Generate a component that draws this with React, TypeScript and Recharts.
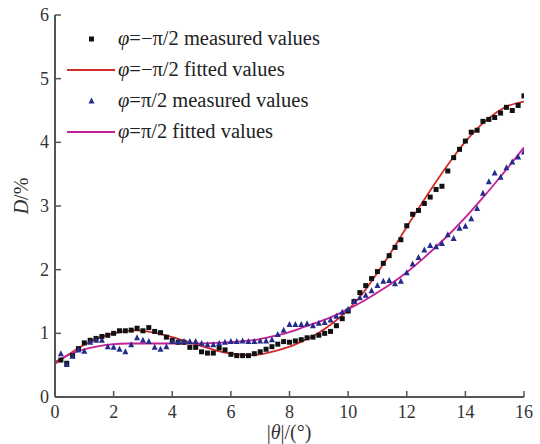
import { ComposedChart, Legend, Line, Scatter, XAxis, YAxis } from "recharts"

const measuredAngles = [
  0.2, 0.4, 0.6, 0.8, 1.0, 1.2, 1.4, 1.6, 1.8, 2.0, 2.2, 2.4, 2.6, 2.8, 3.0, 3.2, 3.4, 3.6, 3.8, 4.0,
  4.2, 4.4, 4.6, 4.8, 5.0, 5.2, 5.4, 5.6, 5.8, 6.0, 6.2, 6.4, 6.6, 6.8, 7.0, 7.2, 7.4, 7.6, 7.8, 8.0,
  8.2, 8.4, 8.6, 8.8, 9.0, 9.2, 9.4, 9.6, 9.8, 10.0, 10.2, 10.4, 10.6, 10.8, 11.0, 11.2, 11.4, 11.6, 11.8, 12.0,
  12.2, 12.4, 12.6, 12.8, 13.0, 13.2, 13.4, 13.6, 13.8, 14.0, 14.2, 14.4, 14.6, 14.8, 15.0, 15.2, 15.4, 15.6, 15.8, 16.0,
]

// φ = −π/2 measured
const negMeasured = [
  0.58, 0.53, 0.65, 0.76, 0.85, 0.89, 0.92, 0.95, 0.97, 1.0, 1.04, 1.04, 1.05, 1.08, 1.04, 1.09, 1.03, 1.01, 0.94, 0.89,
  0.86, 0.86, 0.78, 0.78, 0.71, 0.69, 0.69, 0.77, 0.74, 0.67, 0.65, 0.65, 0.65, 0.68, 0.71, 0.75, 0.79, 0.83, 0.87, 0.86,
  0.88, 0.9, 0.93, 0.94, 0.97, 1.0, 1.03, 1.12, 1.23, 1.35, 1.5, 1.64, 1.75, 1.86, 1.97, 2.1, 2.22, 2.35, 2.47, 2.69,
  2.87, 2.93, 3.04, 3.14, 3.26, 3.31, 3.55, 3.76, 3.89, 4.02, 4.16, 4.19, 4.33, 4.36, 4.39, 4.46, 4.55, 4.5, 4.58, 4.73,
]

// φ = π/2 measured
const posMeasured = [
  0.68, 0.51, 0.64, 0.74, 0.72, 0.86, 0.89, 0.89, 0.79, 0.78, 0.75, 0.71, 0.82, 0.93, 0.89, 0.87, 0.78, 0.75, 0.79, 0.87,
  0.87, 0.87, 0.87, 0.87, 0.84, 0.82, 0.82, 0.84, 0.86, 0.87, 0.87, 0.88, 0.87, 0.87, 0.88, 0.88, 0.9, 0.98, 1.05, 1.14,
  1.14, 1.14, 1.15, 1.12, 1.16, 1.17, 1.21, 1.27, 1.33, 1.38, 1.5, 1.56, 1.6, 1.67, 1.75, 1.82, 1.83, 1.78, 1.82, 1.95,
  2.09, 2.19, 2.31, 2.38, 2.36, 2.41, 2.55, 2.49, 2.65, 2.68, 2.8, 2.96, 3.2, 3.38, 3.52, 3.45, 3.6, 3.69, 3.77, 3.85,
]

const fitAngles = [
  0, 0.5, 1, 1.5, 2, 2.5, 3, 3.5, 4, 4.5, 5, 5.5, 6, 6.5, 7, 7.5, 8,
  8.5, 9, 9.5, 10, 10.5, 11, 11.5, 12, 12.5, 13, 13.5, 14, 14.5, 15, 15.5, 16,
]

const negFitted = [
  0.52, 0.68, 0.82, 0.93, 1.0, 1.04, 1.04, 1.0, 0.94, 0.87, 0.8, 0.73, 0.68, 0.66, 0.67, 0.72, 0.79,
  0.89, 1.01, 1.17, 1.37, 1.63, 1.95, 2.3, 2.67, 3.03, 3.38, 3.71, 4.01, 4.26, 4.45, 4.58, 4.64,
]

const posFitted = [
  0.55, 0.67, 0.75, 0.8, 0.83, 0.84, 0.84, 0.84, 0.84, 0.84, 0.84, 0.85, 0.86, 0.88, 0.91, 0.96, 1.02,
  1.1, 1.18, 1.27, 1.38, 1.5, 1.64, 1.79, 1.96, 2.15, 2.36, 2.58, 2.82, 3.08, 3.35, 3.63, 3.92,
]

const xTicks = [0, 2, 4, 6, 8, 10, 12, 14, 16]
const yTicks = [0, 1, 2, 3, 4, 5, 6]

const RED = "#d42b2b"
const MAGENTA = "#c51f97"
const NAVY = "#252c8c"
const AXIS = "#555"
const FONT = "'Liberation Serif', 'Times New Roman', serif"

const negPoints = measuredAngles.map((x, i) => ({ x, y: negMeasured[i] }))
const posPoints = measuredAngles.map((x, i) => ({ x, y: posMeasured[i] }))
const negFit = fitAngles.map((x, i) => ({ x, y: negFitted[i] }))
const posFit = fitAngles.map((x, i) => ({ x, y: posFitted[i] }))

const SquareDot = (props: any) => (
  <rect x={props.cx - 2.5} y={props.cy - 2.5} width={5} height={5} fill="#111" />
)

const TriangleDot = (props: any) => (
  <polygon
    points={`${props.cx},${props.cy - 3.5} ${props.cx - 3},${props.cy + 2.5} ${props.cx + 3},${props.cy + 2.5}`}
    fill={NAVY}
  />
)

const BottomTick = (props: any) => (
  <g>
    <line x1={props.x} y1={props.y} x2={props.x} y2={props.y - 6} stroke={AXIS} strokeWidth={1.5} />
    <text x={props.x} y={props.y + 21} textAnchor="middle" fontSize={18} fontFamily={FONT} fill="#333">
      {props.payload.value}
    </text>
  </g>
)

const LeftTick = (props: any) => (
  <g>
    <line x1={props.x} y1={props.y} x2={props.x + 6} y2={props.y} stroke={AXIS} strokeWidth={1.5} />
    <text x={props.x - 6} y={props.y + 6} textAnchor="end" fontSize={18} fontFamily={FONT} fill="#333">
      {props.payload.value}
    </text>
  </g>
)

const TopTick = (props: any) => (
  <line x1={props.x} y1={props.y} x2={props.x} y2={props.y + 6} stroke={AXIS} strokeWidth={1.5} />
)

const RightTick = (props: any) => (
  <line x1={props.x} y1={props.y} x2={props.x - 6} y2={props.y} stroke={AXIS} strokeWidth={1.5} />
)

const LegendBox = () => {
  const rows = [
    { label: "φ=−π/2 measured values", kind: "square" },
    { label: "φ=−π/2 fitted values", kind: "red" },
    { label: "φ=π/2 measured values", kind: "triangle" },
    { label: "φ=π/2 fitted values", kind: "magenta" },
  ]
  return (
    <svg width={300} height={130}>
      {rows.map((row, i) => {
        const cy = 18 + i * 31
        return (
          <g key={row.label}>
            {row.kind === "square" && <rect x={28} y={cy - 2.5} width={5} height={5} fill="#111" />}
            {row.kind === "triangle" && (
              <polygon points={`30.5,${cy - 3.5} 27.5,${cy + 2.5} 33.5,${cy + 2.5}`} fill={NAVY} />
            )}
            {row.kind === "red" && <line x1={6} x2={54} y1={cy} y2={cy} stroke={RED} strokeWidth={2} />}
            {row.kind === "magenta" && <line x1={6} x2={54} y1={cy} y2={cy} stroke={MAGENTA} strokeWidth={2} />}
            <text x={57} y={cy + 6} fontSize={20.5} fontFamily={FONT} fill="#222">
              <tspan fontStyle="italic">φ</tspan>
              {row.label.slice(1)}
            </text>
          </g>
        )
      })}
    </svg>
  )
}

export default function App() {
  return (
    <div style={{ position: "absolute", left: 0, top: 0, width: 540, height: 444, background: "#fff" }}>
      <ComposedChart width={540} height={444} margin={{ top: 15, right: 16, bottom: 17, left: 15 }}>
        <XAxis
          dataKey="x"
          type="number"
          domain={[0, 16]}
          ticks={xTicks}
          tickSize={0}
          tickMargin={0}
          height={30}
          axisLine={{ stroke: AXIS, strokeWidth: 2 }}
          tickLine={false}
          tick={<BottomTick />}
          allowDataOverflow
        />
        <XAxis
          xAxisId="top"
          orientation="top"
          type="number"
          domain={[0, 16]}
          ticks={xTicks}
          tickSize={0}
          tickMargin={0}
          height={0}
          axisLine={{ stroke: AXIS, strokeWidth: 2 }}
          tickLine={false}
          tick={<TopTick />}
        />
        <YAxis
          type="number"
          domain={[0, 6]}
          ticks={yTicks}
          tickSize={0}
          tickMargin={0}
          width={40}
          axisLine={{ stroke: AXIS, strokeWidth: 2 }}
          tickLine={false}
          tick={<LeftTick />}
          allowDataOverflow
        />
        <YAxis
          yAxisId="right"
          orientation="right"
          type="number"
          domain={[0, 6]}
          ticks={yTicks}
          tickSize={0}
          tickMargin={0}
          width={0}
          axisLine={{ stroke: AXIS, strokeWidth: 2 }}
          tickLine={false}
          tick={<RightTick />}
        />
        <Legend
          layout="vertical"
          verticalAlign="middle"
          align="center"
          content={<LegendBox />}
          wrapperStyle={{ position: "absolute", left: 61, top: 21, width: 300, height: 130 }}
        />
        <Line
          data={negFit}
          dataKey="y"
          type="natural"
          stroke={RED}
          strokeWidth={1.8}
          dot={false}
          activeDot={false}
          isAnimationActive={false}
          legendType="none"
        />
        <Line
          data={posFit}
          dataKey="y"
          type="natural"
          stroke={MAGENTA}
          strokeWidth={1.8}
          dot={false}
          activeDot={false}
          isAnimationActive={false}
          legendType="none"
        />
        <Scatter data={negPoints} dataKey="y" shape={<SquareDot />} isAnimationActive={false} />
        <Scatter data={posPoints} dataKey="y" shape={<TriangleDot />} isAnimationActive={false} />
      </ComposedChart>
      <div
        style={{
          position: "absolute",
          left: 289,
          top: 421,
          transform: "translateX(-50%)",
          fontFamily: FONT,
          fontSize: 20,
          lineHeight: "22px",
          color: "#333",
          whiteSpace: "nowrap",
        }}
      >
        |<i>θ</i>|/(°)
      </div>
      <div
        style={{
          position: "absolute",
          left: 21,
          top: 196,
          transform: "translate(-50%, -50%) rotate(-90deg)",
          fontFamily: FONT,
          fontSize: 20,
          color: "#333",
          whiteSpace: "nowrap",
        }}
      >
        <i>D</i>/%
      </div>
    </div>
  )
}
